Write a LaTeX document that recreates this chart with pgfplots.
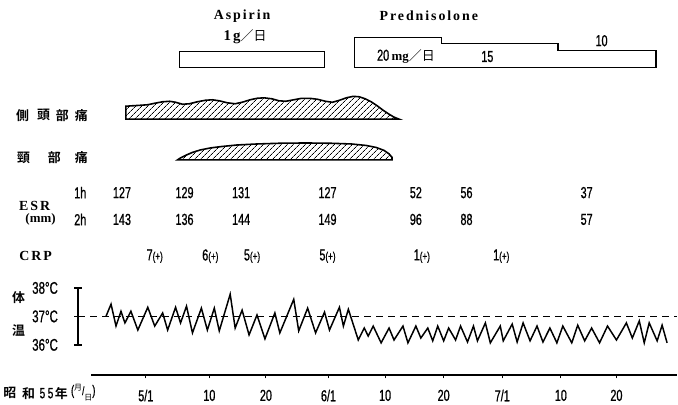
\documentclass[border=0pt]{standalone}
\usepackage{pgfplots}
\pgfplotsset{compat=1.18}
\usetikzlibrary{patterns.meta}
\usepackage{fontspec}
\setmainfont{Liberation Serif}
\newfontfamily\jp{Noto Sans CJK JP}
\newfontfamily\jpb{Noto Sans CJK JP Bold}
\newfontfamily\numf[FakeStretch=0.68, FakeBold=0.8]{Liberation Sans}
\newfontfamily\slab[LetterSpace=14]{Liberation Serif Bold}
\newfontfamily\serb{Liberation Serif Bold}
\newcommand{\fs}[1]{\fontsize{#1}{#1}\selectfont}

\pgfplotstableread{
x y v
119 194 127
182 194 129
239 194 131
326 194 127
415 194 52
466 194 56
587 194 37
}\esrone
\pgfplotstableread{
x y v
119 221 143
182 221 136
239 221 144
326 221 149
415 221 96
466 221 88
587 221 57
}\esrtwo
\pgfplotstableread{
x y v
152 258 7
208 258 6
250 258 5
326 258 5
421 258 1
501 258 1
}\crp
\pgfplotstableread{
x T
103 37.01
108 37.43
113 36.66
118 37.18
122 36.77
128 37.18
135 36.52
145 37.32
152 36.66
160 37.12
165 36.52
173 37.32
178 36.77
184 37.36
190 36.42
199 37.29
205 36.52
212 37.29
217 36.49
228 37.78
233 36.59
240 37.22
247 36.35
255 37.05
263 36.21
273 37.12
278 36.42
292 37.60
297 36.49
306 37.29
314 36.42
323 37.15
328 36.52
338 37.32
342 36.66
347 37.25
357 36.17
363 36.59
367 36.31
372 36.66
380 36.07
388 36.59
393 36.17
402 36.66
407 36.07
415 36.66
420 36.24
427 36.59
432 36.14
437 36.66
443 36.14
448 36.59
455 36.17
460 36.66
467 36.10
473 36.66
477 36.14
485 36.77
490 36.07
500 36.66
503 36.14
512 36.73
517 36.10
523 36.77
530 36.14
537 36.66
543 36.10
550 36.59
557 36.07
563 36.66
572 36.07
578 36.69
585 36.14
592 36.59
600 36.07
608 36.66
617 36.17
627 36.77
633 36.24
640 36.84
645 36.07
650 36.77
658 36.14
663 36.69
668 36.07
}\temp

\begin{document}
\begin{tikzpicture}
% ---------- main frame in pixel units ----------
\begin{axis}[at={(0pt,0pt)}, anchor=south west, scale only axis,
  x=1pt, y=1pt, y dir=reverse, xmin=0, xmax=678, ymin=0, ymax=406,
  hide axis, clip=false]
\path (axis cs:0,0) rectangle (axis cs:678,406);
% drug titles
\node[font=\slab\fs{14}] at (axis cs:240,16) {Aspirin};
\node[font=\slab\fs{14}] at (axis cs:428,16) {Prednisolone};
\node at (axis cs:243,37) {{\slab\fs{15}1g}{\jp\fs{13}／日}};
% aspirin bar
\addplot[line width=1.4pt] coordinates {(177,52) (323,52) (323,68) (177,68)} --cycle;
% prednisolone step bar
\addplot[line width=1.4pt] coordinates {(353,68) (353,38) (441,38) (441,44) (558,44) (558,51) (657,51) (657,68)} --cycle;
\node at (axis cs:405,57) {{\numf\fs{16}20} {\serb\fs{13}mg}{\jp\fs{13}／日}};
\node[font=\numf\fs{16}] at (axis cs:487,57) {15};
\node[font=\numf\fs{16}] at (axis cs:602,41) {10};
% symptom labels
\node[font=\jpb\fs{13}] at (axis cs:19,116) {側};
\node[font=\jpb\fs{13}] at (axis cs:40,116) {頭};
\node[font=\jpb\fs{13}] at (axis cs:59,116) {部};
\node[font=\jpb\fs{13}] at (axis cs:78,116) {痛};
\node[font=\jpb\fs{13}] at (axis cs:20,159) {頸};
\node[font=\jpb\fs{13}] at (axis cs:51,159) {部};
\node[font=\jpb\fs{13}] at (axis cs:78,159) {痛};
% temporal headache
\addplot[line width=1.6pt, pattern={Lines[angle=45, distance=4pt, line width=0.9pt]}] coordinates {
(123,120) (123,107) (130,106.5) (138,106) (145,105.5) (152,104) (160,102.5) (167,102)
(173,103) (180,105) (187,104.5) (195,102.5) (203,101) (210,100.5) (217,101.5) (225,103.5)
(233,104.5) (240,103) (248,100.5) (255,99) (262,98.5) (270,99.5) (277,101.5) (284,102)
(292,100.5) (300,99) (308,99) (316,100) (324,102) (331,103) (338,101) (345,98.5)
(352,97) (358,97.5) (364,99.5) (370,102.5) (376,106.5) (382,111) (388,115) (393,118)
(398,120)} --cycle;
% neck pain
\addplot[line width=1.6pt, pattern={Lines[angle=45, distance=4pt, line width=0.9pt]}] coordinates {
(175,161) (178,159) (183,156.5) (190,153.5) (198,151) (208,149) (220,147.5) (235,146)
(255,145) (280,144.2) (305,144) (330,144.3) (350,145) (365,146.5) (375,148.5) (383,151.5)
(388,155) (391,158.5) (391,161)} --cycle;
% ESR
\node[font=\slab\fs{14}] at (axis cs:31,207) {ESR};
\node[font=\serb\fs{13}] at (axis cs:37,221) {(mm)};
\node[font=\numf\fs{16}] at (axis cs:77,194) {1h};
\node[font=\numf\fs{16}] at (axis cs:77,221) {2h};
\addplot[only marks, mark=none, nodes near coords, point meta=explicit symbolic,
  nodes near coords style={anchor=center, font=\numf\fs{16}}] table[meta=v] {\esrone};
\addplot[only marks, mark=none, nodes near coords, point meta=explicit symbolic,
  nodes near coords style={anchor=center, font=\numf\fs{16}}] table[meta=v] {\esrtwo};
% CRP
\node[font=\slab\fs{14}] at (axis cs:32,258) {CRP};
\addplot[only marks, mark=none, nodes near coords={\pgfplotspointmeta{\fs{12}(+)}},
  point meta=explicit symbolic,
  nodes near coords style={anchor=center, font=\numf\fs{16}}] table[meta=v] {\crp};
% temperature label
\node[font=\jpb\fs{13}] at (axis cs:15,300) {体};
\node[font=\jpb\fs{13}] at (axis cs:15,333) {温};
% date label
\node[font=\jpb\fs{13}] at (axis cs:6,396) {昭};
\node[font=\jpb\fs{13}] at (axis cs:25,396) {和};
\node[font=\numf\fs{15}] at (axis cs:43,396) {5\,5};
\node[font=\jpb\fs{13}] at (axis cs:58,396) {年};
\node[inner sep=0pt] at (axis cs:80,395) {{\numf\fs{14}(}{\jp\fs{8}\raisebox{5pt}{月}}{\numf\fs{12}/}{\jp\fs{8}\raisebox{-5pt}{日}}{\numf\fs{14})}};
\end{axis}

% ---------- temperature ----------
\begin{axis}[at={(75pt,58.7pt)}, anchor=south west, scale only axis,
  x=1pt, y=28.65pt, xmin=75, xmax=678, ymin=36, ymax=38,
  axis y line=left, axis x line=none,
  axis line style={line width=1.6pt, -},
  ytick={36,37,38}, yticklabels={36°C,37°C,38°C},
  tick align=center, major tick length=8pt,
  tick style={line width=1.6pt, black},
  yticklabel style={font=\numf\fs{17}, xshift=-13pt},
  clip=false]
\addplot[line width=1.1pt, dash pattern=on 7pt off 5pt] coordinates {(75,37) (678,37)};
\addplot[line width=1.5pt, line join=miter, mark=none] table[x=x, y=T] {\temp};
\end{axis}

% ---------- date axis ----------
\begin{axis}[at={(88pt,28pt)}, anchor=south west, scale only axis,
  x=1pt, y=1pt, xmin=88, xmax=678, ymin=0, ymax=10,
  axis x line=bottom, axis y line=none,
  axis line style={line width=2pt, -},
  xtick={143,207,264,327,384,443,502,561,617},
  xticklabels={5/1,10,20,6/1,10,20,7/1,10,20},
  tick align=outside, major tick length=3pt,
  tick style={line width=1pt, black},
  xticklabel style={font=\numf\fs{16}, yshift=-8pt}]
\addplot[draw=none] coordinates {(100,5)};
\end{axis}
\end{tikzpicture}
\end{document}
